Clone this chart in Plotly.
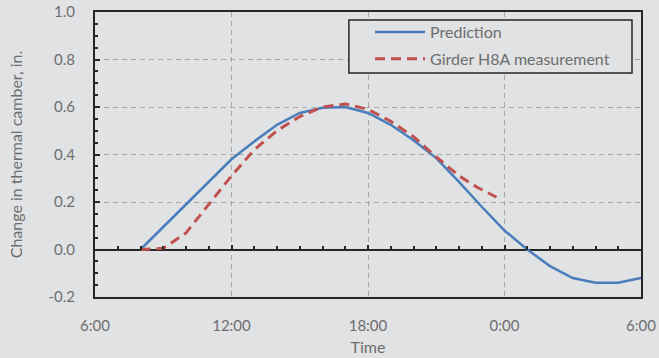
import plotly.graph_objects as go

# hours after 6:00
pred_t = [2, 3, 4, 5, 6, 7, 8, 9, 10, 11, 12, 13, 14, 15, 16, 17, 18, 19, 20, 21, 22, 23, 24]
pred_y = [0.0, 0.095, 0.19, 0.285, 0.38, 0.455, 0.525, 0.575, 0.597, 0.60, 0.575, 0.525,
          0.46, 0.385, 0.285, 0.18, 0.08, 0.0, -0.07, -0.12, -0.14, -0.14, -0.12]

meas_t = [2, 3, 4, 5, 6, 7, 8, 9, 10, 11, 12, 13, 14, 15, 16, 16.8, 17.65]
meas_y = [0.0, 0.005, 0.07, 0.19, 0.31, 0.42, 0.50, 0.56, 0.60, 0.613, 0.59, 0.54,
          0.475, 0.39, 0.31, 0.262, 0.22]

x_tickvals = [0, 6, 12, 18, 24]
x_ticktext = ["6:00", "12:00", "18:00", "0:00", "6:00"]
y_tickvals = [-0.2, 0.0, 0.2, 0.4, 0.6, 0.8, 1.0]
y_ticktext = ["-0.2", "0.0", "0.2", "0.4", "0.6", "0.8", "1.0"]

BG = "#e1e2e4"
TXT = "#6e6e6e"
GRID = "#a9a9a9"
AX = "#262626"
FONT = "Lato"

fig = go.Figure()
fig.add_trace(go.Scatter(x=pred_t, y=pred_y, mode="lines", name="Prediction",
                         legendgroup="a",
                         line=dict(color="#4a7ebb", width=2.5)))
fig.add_trace(go.Scatter(x=meas_t, y=meas_y, mode="lines", name="Girder H8A measurement",
                         legendgroup="b", xaxis="x2",
                         line=dict(color="#c0504d", width=3, dash="10px,6px")))

# legend frame (paper coordinates)
fig.add_shape(type="rect", xref="paper", yref="paper",
              x0=0.465, x1=0.9835, y0=0.786, y1=0.972,
              line=dict(color=AX, width=1.5), fillcolor=BG, layer="above")

fig.update_layout(
    width=659, height=358,
    paper_bgcolor=BG, plot_bgcolor=BG,
    margin=dict(l=95, r=18, t=12, b=61),
    font=dict(family=FONT, size=15, color=TXT),
    showlegend=True,
    legend=dict(x=0.5037, y=0.989, xanchor="left", yanchor="top",
                bgcolor="rgba(0,0,0,0)", borderwidth=0,
                font=dict(family=FONT, size=16, color=TXT),
                itemwidth=50, tracegroupgap=3),
    xaxis=dict(range=[0, 24], tickvals=x_tickvals, ticktext=x_ticktext,
               showgrid=True, gridcolor=GRID, griddash="5px,4px", gridwidth=1,
               showline=True, linecolor=AX, linewidth=2, mirror=True,
               ticks="", zeroline=False, ticklabelstandoff=14, automargin=False,
               ticklabeloverflow="allow",
               tickfont=dict(size=15, color=TXT),
               title=dict(text="Time", standoff=9, font=dict(size=16, color=TXT))),
    yaxis=dict(range=[-0.2, 1.0], tickvals=y_tickvals, ticktext=y_ticktext,
               showgrid=True, gridcolor=GRID, griddash="5px,4px", gridwidth=1,
               showline=True, linecolor=AX, linewidth=2, mirror=True,
               zeroline=True, zerolinecolor=AX, zerolinewidth=2,
               ticks="inside", ticklen=5, tickcolor=AX, tickwidth=1.5,
               minor=dict(dtick=0.05, ticks="inside", ticklen=3, tickcolor=AX, tickwidth=1.5,
                          showgrid=False),
               ticklabelstandoff=15, automargin=False, ticklabeloverflow="allow",
               tickfont=dict(size=15, color=TXT),
               title=dict(text="Change in thermal camber, in.", standoff=22,
                          font=dict(size=16, color=TXT))),
    xaxis2=dict(range=[0, 24], overlaying="x", anchor="free", position=1/6,
                side="bottom", showticklabels=False, showgrid=False, zeroline=False,
                showline=False, tick0=0, dtick=6, ticks="inside", ticklen=5,
                tickcolor=AX, tickwidth=1.5, automargin=False,
                minor=dict(dtick=1, ticks="inside", ticklen=4, tickcolor=AX,
                           tickwidth=1.5, showgrid=False)),
)

fig.write_html("out.html", config={"displayModeBar": False},
               post_script="document.body.style.margin='0';")
